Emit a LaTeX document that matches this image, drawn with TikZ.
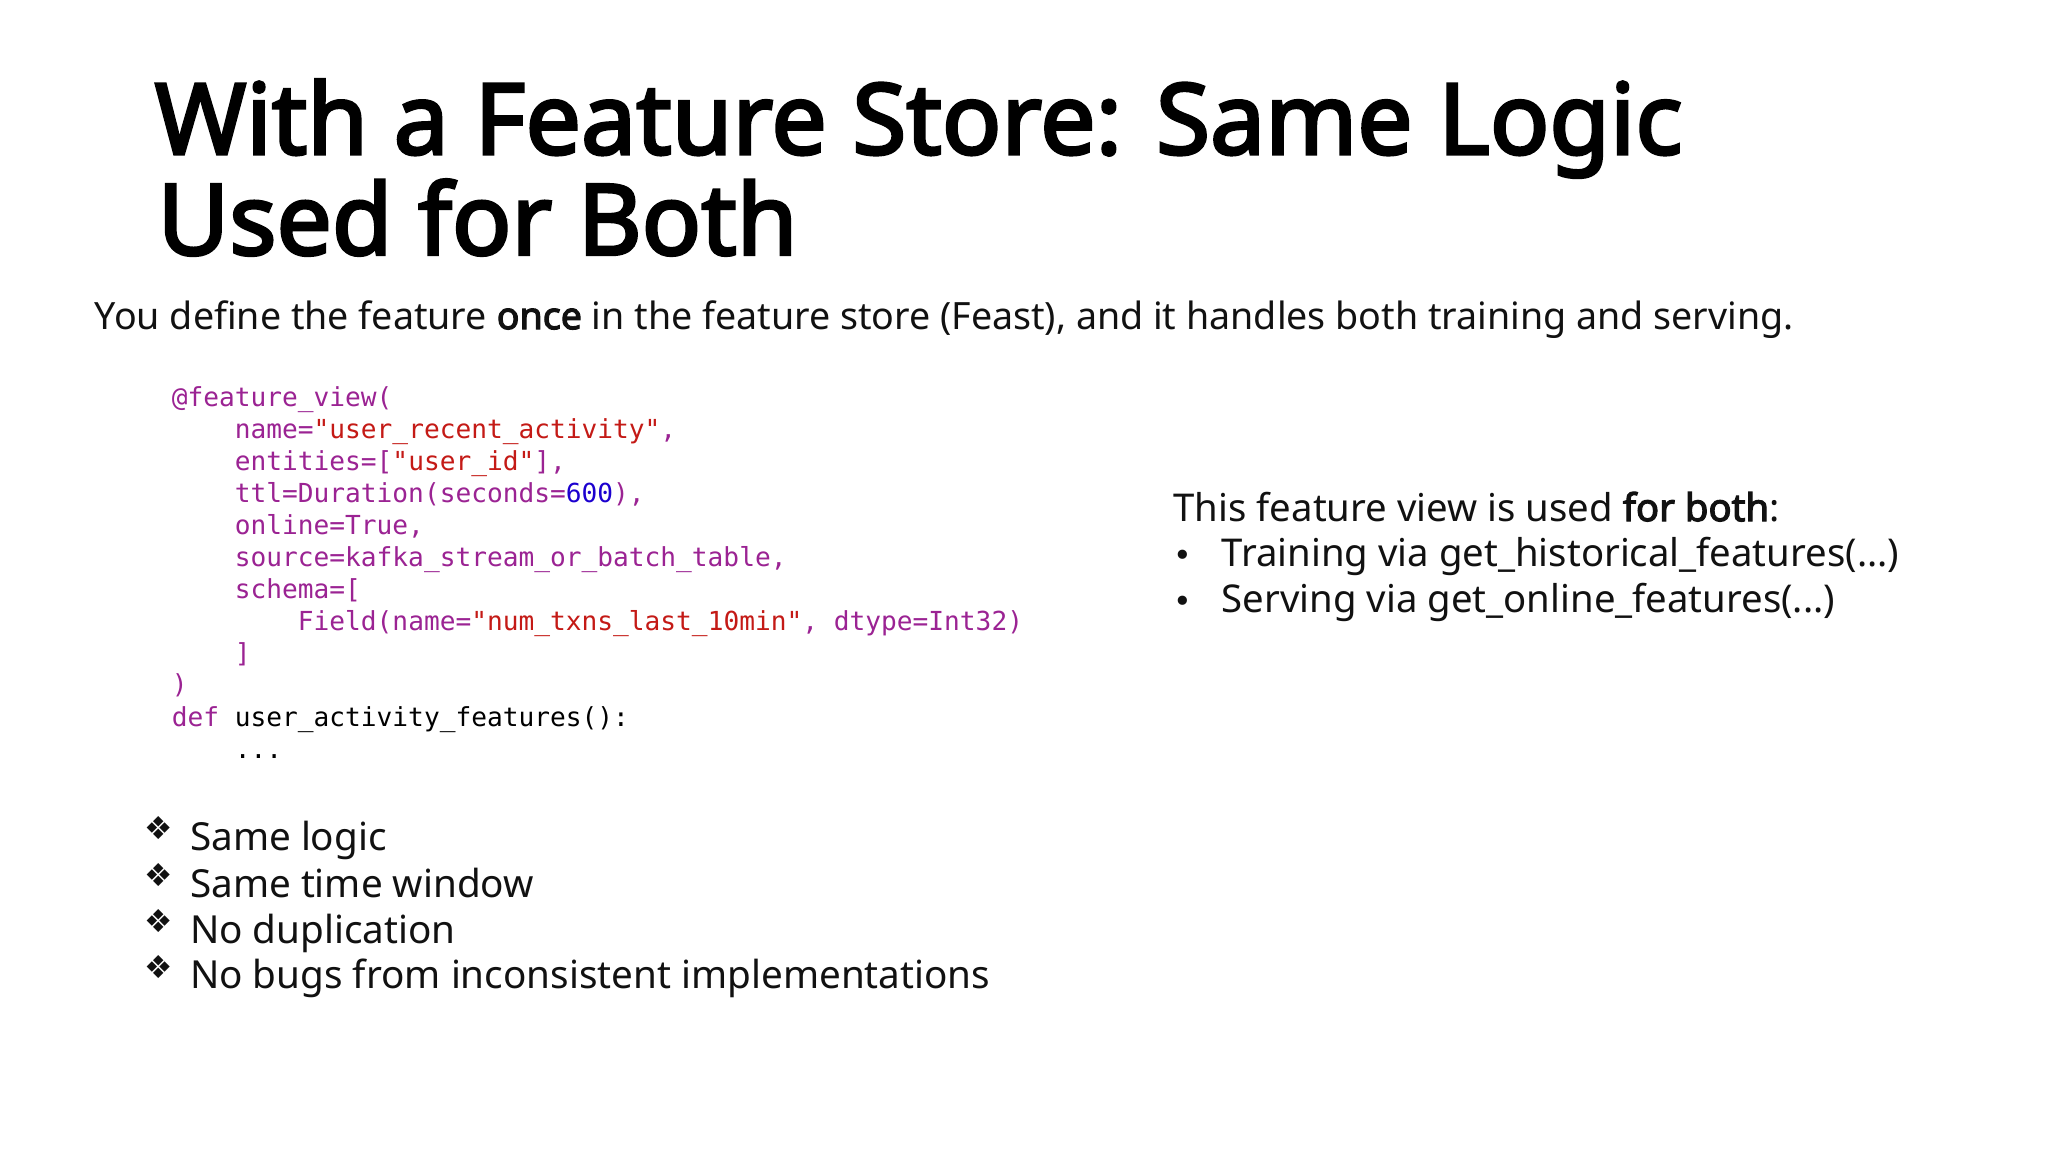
\documentclass[tikz,border=0pt]{standalone}
\usepackage{fontspec}
\setmainfont{Noto Sans}[BoldFont={Noto Sans},BoldFeatures={FakeBold=3}]
\newfontfamily\codefont{DejaVu Sans Mono}
\newfontfamily\symfont{DejaVu Sans}
\definecolor{kw}{HTML}{9B2393}
\definecolor{str}{HTML}{C41A16}
\definecolor{num}{HTML}{1C00CF}
\definecolor{txt}{HTML}{111111}
\begin{document}
\begin{tikzpicture}[x=0.013061cm,y=-0.013061cm,
  tl/.style={anchor=base west,inner sep=0pt,font=\fontsize{28}{29}\selectfont\bfseries,text=black},
  body/.style={anchor=base west,inner sep=0pt,font=\fontsize{10.7}{12}\selectfont,text=txt},
  rt/.style={anchor=base west,inner sep=0pt,font=\fontsize{10.9}{13}\selectfont,text=txt},
  bl/.style={anchor=base west,inner sep=0pt,font=\fontsize{11}{13}\selectfont,text=txt},
  code/.style={anchor=base west,inner sep=0pt,font=\codefont\fontsize{7.45}{9}\selectfont,text=black}]
\useasboundingbox[fill=white] (0,0) rectangle (1568,882);
\node[tl] (t1) at (118,118) {With a Feature Store: Same Logic};
\node[tl] (t2) at (120,195) {Used for Both};
\node[body] (sub) at (72,252) {You define the feature \textbf{once} in the feature store (Feast), and it handles both training and serving.};
% code
\node[code] (c1) at (131,311) {\color{kw}@feature\_view(};
\node[code] (c2) at (131,336) {\color{kw}\ \ \ \ name=\color{str}"user\_recent\_activity"\color{kw},};
\node[code] (c3) at (131,360) {\color{kw}\ \ \ \ entities=[\color{str}"user\_id"\color{kw}],};
\node[code] (c4) at (131,385) {\color{kw}\ \ \ \ ttl=Duration(seconds=\color{num}600\color{kw}),};
\node[code] (c5) at (131,409) {\color{kw}\ \ \ \ online=True,};
\node[code] (c6) at (131,434) {\color{kw}\ \ \ \ source=kafka\_stream\_or\_batch\_table,};
\node[code] (c7) at (131,458) {\color{kw}\ \ \ \ schema=[};
\node[code] (c8) at (131,483) {\color{kw}\ \ \ \ \ \ \ \ Field(name=\color{str}"num\_txns\_last\_10min"\color{kw}, dtype=Int32)};
\node[code] (c9) at (131,507) {\color{kw}\ \ \ \ ]};
\node[code] (c10) at (131,531) {\color{kw})};
\node[code] (c11) at (131,556) {\color{kw}def \color{black}user\_activity\_features():};
\node[code] (c12) at (131,581) {\ \ \ \ ...};
% right text
\node[rt] (r0) at (898,399) {This feature view is used \textbf{for both}:};
\node[rt] (rb1) at (898,434) {\symfont\small •};
\node[rt] (r1) at (935,434) {Training via get\_historical\_features(...)};
\node[rt] (rb2) at (898,469) {\symfont\small •};
\node[rt] (r2) at (935,469) {Serving via get\_online\_features(...)};
% bottom bullets
\foreach \y/\t [count=\i] in {651/Same logic,687/Same time window,722/No duplication,757/No bugs from inconsistent implementations}{
  \node[bl] (bs\i) at (110,\y-8) {\symfont\small ❖};
  \node[bl] (b\i) at (145,\y) {\t};
}
\end{tikzpicture}
\end{document}
